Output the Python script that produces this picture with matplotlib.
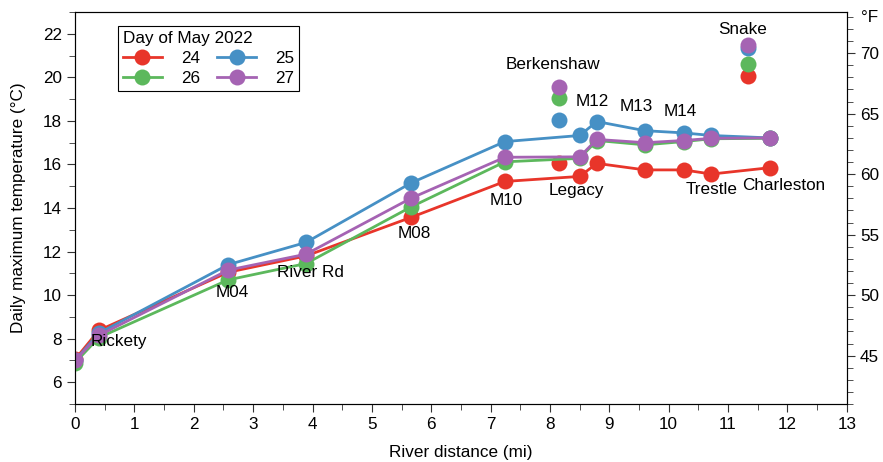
import matplotlib
matplotlib.use('Agg')
import matplotlib.pyplot as plt
from matplotlib.ticker import MultipleLocator
from matplotlib.lines import Line2D

plt.rcParams['font.family'] = ['Liberation Sans', 'DejaVu Sans']
plt.rcParams['font.size'] = 12.3

# main stem sites (river distance, mi)
dist = [0, 0.4, 2.58, 3.89, 5.66, 7.24, 8.5, 8.79, 9.6, 10.25, 10.72, 11.7]
t24 = [7.05, 8.38, 11.05, 11.8, 13.57, 15.22, 15.45, 16.05, 15.75, 15.75, 15.56, 15.85]
t25 = [7.0, 8.25, 11.4, 12.42, 15.15, 17.05, 17.33, 17.97, 17.55, 17.45, 17.33, 17.22]
t26 = [6.9, 8.05, 10.7, 11.45, 14.05, 16.12, 16.28, 17.1, 16.9, 17.05, 17.18, 17.2]
t27 = [7.0, 8.15, 11.15, 11.88, 14.45, 16.33, 16.35, 17.15, 17.0, 17.1, 17.2, 17.22]

# tributaries: Berkenshaw, Snake
trib_dist = [8.15, 11.33]
trib24 = [16.05, 20.05]
trib25 = [18.02, 21.37]
trib26 = [19.07, 20.6]
trib27 = [19.55, 21.48]

days = ['24', '25', '26', '27']
colors = ['#e8352a', '#4690c5', '#5cb85c', '#a563b3']

site_names = ['Rickety', 'M04', 'River Rd', 'M08', 'M10', 'Legacy', 'Berkenshaw',
              'M12', 'M13', 'M14', 'Trestle', 'Charleston', 'Snake']
label_x = [0.74, 2.64, 3.97, 5.71, 7.26, 8.45, 8.05, 8.72, 9.46, 10.19, 10.72, 11.94, 11.25]
label_y = [7.86, 10.14, 11.05, 12.82, 14.36, 14.82, 20.6, 18.9, 18.64, 18.45, 14.86, 15.05, 22.18]

fig = plt.figure(figsize=(8.83, 4.62), dpi=100)
ax = fig.add_axes([0.085, 0.1255, 0.874, 0.8485])

handles = []
for d, main, trib, c in zip(days, [t24, t25, t26, t27], [trib24, trib25, trib26, trib27], colors):
    ax.plot(dist, main, '-o', color=c, lw=2, ms=11.5, mec='none')
    ax.plot(trib_dist, trib, 'o', color=c, ms=11.5, mec='none')
    handles.append(Line2D([], [], color=c, lw=2, marker='o', ms=11.5, mec='none', label=d))

for name, lx, ly in zip(site_names, label_x, label_y):
    ax.text(lx, ly, name, ha='center', va='center', zorder=5)

ax.set_xlim(0, 13)
ax.set_ylim(5, 23)
ax.xaxis.set_major_locator(MultipleLocator(1))
ax.xaxis.set_minor_locator(MultipleLocator(0.5))
ax.yaxis.set_major_locator(MultipleLocator(2))
ax.yaxis.set_minor_locator(MultipleLocator(1))
ax.tick_params(which='both', direction='out', color='#333333')
ax.tick_params(which='major', length=6)
ax.tick_params(which='minor', length=4)
for s in ax.spines.values():
    s.set_color('#333333')
ax.set_xlabel('River distance (mi)', labelpad=9)
ax.set_ylabel('Daily maximum temperature (°C)', labelpad=12)

axf = ax.twinx()
axf.set_ylim(5 * 9 / 5 + 32, 23 * 9 / 5 + 32)
axf.yaxis.set_major_locator(MultipleLocator(5))
axf.yaxis.set_minor_locator(MultipleLocator(1))
axf.tick_params(which='both', direction='out', color='#333333')
axf.tick_params(which='major', length=6)
axf.tick_params(which='minor', length=4)
axf.set_yticks([45, 50, 55, 60, 65, 70])
axf.text(1.018, 0.985, '°F', transform=axf.transAxes, ha='left', va='center')

leg = ax.legend(handles=[handles[0], handles[2], handles[1], handles[3]], ncol=2,
                title='Day of May 2022', loc='upper left', bbox_to_anchor=(0.055, 0.965),
                fancybox=False, edgecolor='black', framealpha=1, borderaxespad=0,
                handlelength=2.3, columnspacing=1.0, labelspacing=0.3, borderpad=0.3,
                handletextpad=1.1)
leg.get_frame().set_linewidth(0.8)
leg._legend_box.align = 'left'

fig.savefig('out.png', dpi=100)
